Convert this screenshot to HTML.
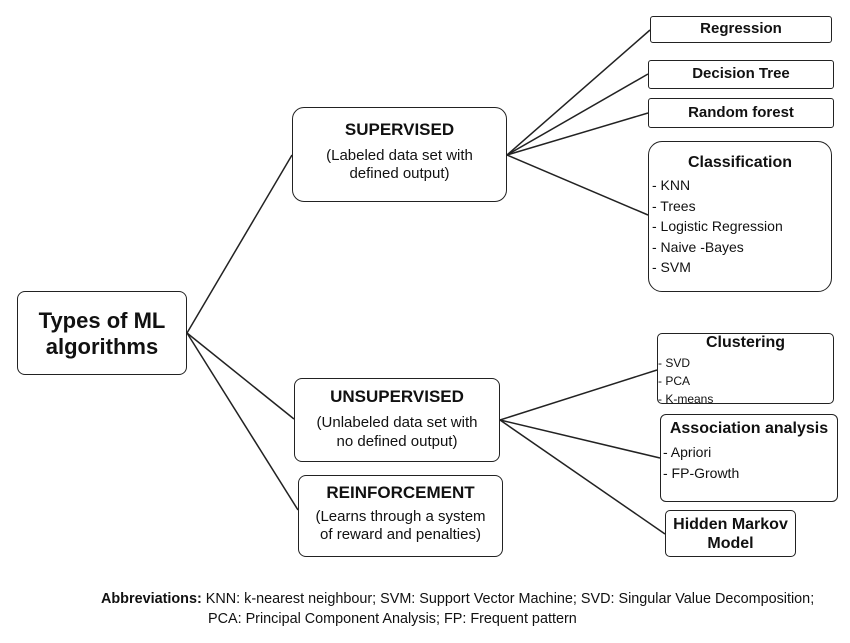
<!DOCTYPE html>
<html><head><style>
body{margin:0;background:#fff;width:850px;height:643px;position:relative;font-family:"Liberation Sans",Arial,sans-serif;color:#111;overflow:hidden}
.b{position:absolute;border:1.8px solid #222;border-radius:8px;box-sizing:border-box;background:#fff}
.t{font-weight:bold;text-align:center}
.c{text-align:center}
.l{font-size:14px;line-height:20.5px;margin-left:3px}
svg{position:absolute;left:0;top:0}
</style></head><body>
<svg width="850" height="643"><g stroke="#222" stroke-width="1.5" fill="none">
<line x1="187" y1="333" x2="292" y2="155"/>
<line x1="187" y1="333" x2="294" y2="419"/>
<line x1="187" y1="333" x2="298" y2="510"/>
<line x1="507" y1="155" x2="650" y2="30"/>
<line x1="507" y1="155" x2="648" y2="74"/>
<line x1="507" y1="155" x2="648" y2="113"/>
<line x1="507" y1="155" x2="648" y2="215"/>
<line x1="500" y1="420" x2="657" y2="370"/>
<line x1="500" y1="420" x2="660" y2="458"/>
<line x1="500" y1="420" x2="665" y2="534"/>
</g></svg>
<div class="b t" style="left:17px;top:291px;width:170px;height:84px;font-size:22px;line-height:26px;padding-top:16px">Types of ML<br>algorithms</div>
<div class="b" style="left:292px;top:107px;width:215px;height:95px;border-radius:12px"><div class="t" style="font-size:17px;margin-top:12px">SUPERVISED</div><div class="c" style="font-size:15px;line-height:18px;margin-top:7px">(Labeled data set with<br>defined output)</div></div>
<div class="b" style="left:294px;top:378px;width:206px;height:84px"><div class="t" style="font-size:17px;margin-top:8px">UNSUPERVISED</div><div class="c" style="font-size:15px;line-height:19px;margin-top:6px">(Unlabeled data set with<br>no defined output)</div></div>
<div class="b" style="left:298px;top:475px;width:205px;height:82px"><div class="t" style="font-size:17px;margin-top:7px">REINFORCEMENT</div><div class="c" style="font-size:15px;line-height:18px;margin-top:5px">(Learns through a system<br>of reward and penalties)</div></div>
<div class="b t" style="left:650px;top:16px;width:182px;height:27px;font-size:15px;line-height:24px;border-radius:3px">Regression</div>
<div class="b t" style="left:648px;top:60px;width:186px;height:29px;font-size:15px;line-height:26px;border-radius:3px">Decision Tree</div>
<div class="b t" style="left:648px;top:98px;width:186px;height:30px;font-size:15px;line-height:27px;border-radius:3px">Random forest</div>
<div class="b" style="left:648px;top:141px;width:184px;height:151px;border-radius:14px"><div class="t" style="font-size:16px;margin-top:12px;margin-bottom:3px">Classification</div><div class="l">- KNN<br>- Trees<br>- Logistic Regression<br>- Naive -Bayes<br>- SVM</div></div>
<div class="b" style="left:657px;top:333px;width:177px;height:71px;border-radius:5px"><div class="t" style="font-size:16px;margin-top:0px">Clustering</div><div style="font-size:12px;line-height:18px;margin-top:2px">- SVD<br>- PCA<br>- K-means</div></div>
<div class="b" style="left:660px;top:414px;width:178px;height:88px;border-radius:6px"><div class="t" style="font-size:16px;margin-top:5px">Association analysis</div><div style="font-size:14px;line-height:21px;margin-top:4px;margin-left:2px">- Apriori<br>- FP-Growth</div></div>
<div class="b t" style="left:665px;top:510px;width:131px;height:47px;font-size:16px;line-height:19px;padding-top:4px;border-radius:5px">Hidden Markov<br>Model</div>
<div style="position:absolute;left:101px;top:591px;font-size:14.4px;white-space:nowrap"><b>Abbreviations:</b> KNN: k-nearest neighbour; SVM: Support Vector Machine; SVD: Singular Value Decomposition;</div>
<div style="position:absolute;left:208px;top:611px;font-size:14.4px;white-space:nowrap">PCA: Principal Component Analysis; FP: Frequent pattern</div>
</body></html>
